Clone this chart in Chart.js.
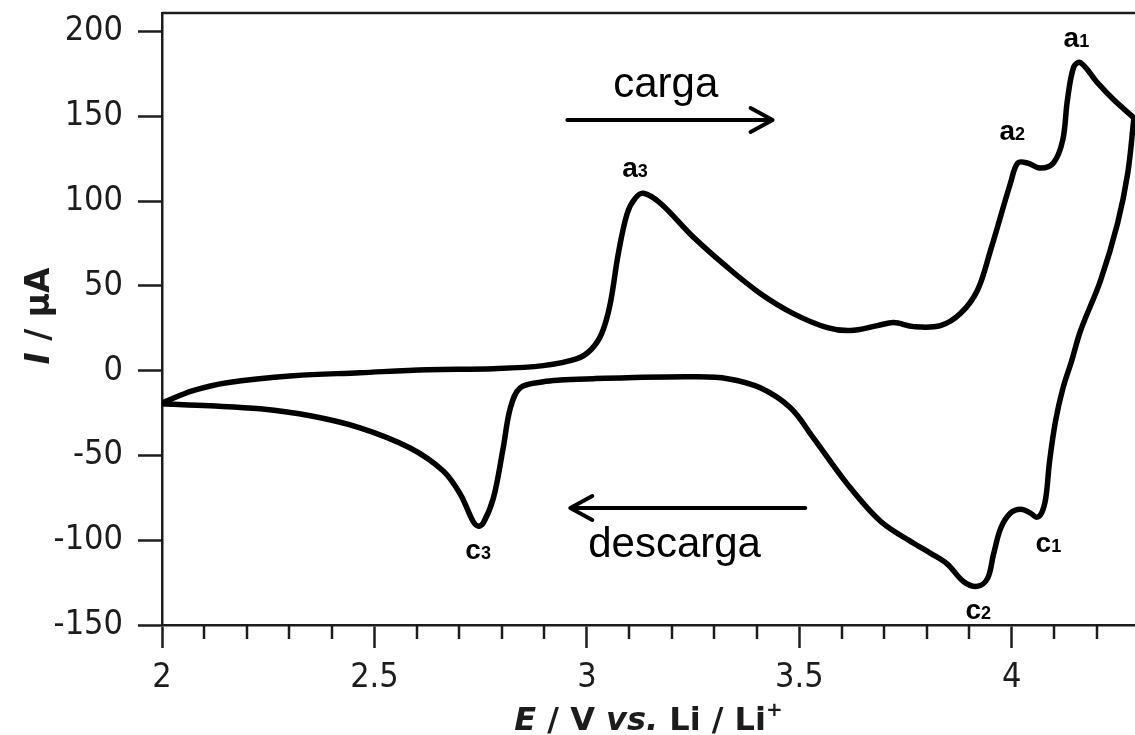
<!DOCTYPE html>
<html lang="es">
<head>
    <meta charset="UTF-8">
    <title>Voltametría cíclica</title>
    <style>
        body {
            margin: 0;
            background: #fff;
        }

        #chart-box {
            width: 1135px;
            height: 735px;
            position: relative;
        }
    </style>
</head>
<body>
    <div id="chart-box">
        <canvas id="cv-chart"></canvas>
    </div>

    <script src="https://cdn.jsdelivr.net/npm/chart.js"></script>
    <script>
        // barrido anódico (carga), E en V e I en µA
        const cargaE = [2.000, 2.073, 2.153, 2.309, 2.466, 2.624, 2.780, 2.897, 2.977, 3.010, 3.035, 3.055, 3.074, 3.095, 3.114, 3.133,
            3.173, 3.251, 3.331, 3.408, 3.486, 3.566, 3.620, 3.684, 3.722, 3.769, 3.832, 3.879, 3.919, 3.950, 3.997, 4.014,
            4.037, 4.068, 4.098, 4.120, 4.131, 4.146, 4.162, 4.202, 4.240, 4.285];
        const cargaI = [-19, -11.8, -7.1, -3.0, -1.2, 0.6, 1.2, 3.0, 7.1, 12.5, 22, 39.6, 69.2, 92.9, 101.8, 104.7,
            98.8, 78.7, 60.9, 45.6, 33.7, 25.4, 23.7, 26.6, 28.4, 26.0, 26.6, 33.7, 47.3, 71.0, 110.7, 122.5,
            122.5, 119.5, 122.5, 136.1, 159.8, 179.3, 181.7, 169.8, 159.8, 149.7];

        // barrido catódico (descarga)
        const descargaE = [4.287, 4.273, 4.249, 4.209, 4.162, 4.141, 4.120, 4.103, 4.089, 4.080, 4.070, 4.058, 4.044, 4.021, 3.997, 3.974,
            3.957, 3.943, 3.919, 3.886, 3.849, 3.809, 3.769, 3.691, 3.613, 3.533, 3.479, 3.408, 3.331, 3.251, 3.095, 3.015,
            2.937, 2.897, 2.843, 2.820, 2.803, 2.780, 2.756, 2.744, 2.732, 2.702, 2.662, 2.584, 2.466, 2.349, 2.231, 2.113, 2.000];
        const descargaI = [148, 116.6, 87.0, 53.3, 23.7, 5.9, -10.7, -29.6, -53.3, -75.1, -84.0, -86.4, -84.0, -81.7, -84.0, -92.9,
            -108.3, -122.5, -127.2, -124.3, -114.2, -107.7, -101.8, -88.8, -66.9, -39.6, -21.9, -10.1, -4.7, -3.6, -4.1, -4.7,
            -5.5, -6.5, -10.1, -21.9, -45.6, -75.1, -89.9, -91.7, -88.8, -72.8, -59.2, -45.6, -33.7, -26.6, -22.5, -20.7, -19.5];

        const xTicks = [2, 2.5, 3, 3.5, 4];
        const yTicks = [-150, -100, -50, 0, 50, 100, 150, 200];

        // etiquetas de picos: letra, subíndice, posición (E, I) de la esquina izquierda sobre la línea base
        const picos = [
            { txt: 'a', sub: '1', e: 4.122, i: 191 },
            { txt: 'a', sub: '2', e: 3.971, i: 136 },
            { txt: 'a', sub: '3', e: 3.083, i: 114 },
            { txt: 'c', sub: '1', e: 4.056, i: -107 },
            { txt: 'c', sub: '2', e: 3.891, i: -146.5 },
            { txt: 'c', sub: '3', e: 2.714, i: -111 }
        ];

        const INK = '#1c1c1c';
        const tickFont = "'DejaVu Sans Condensed', 'Liberation Sans', sans-serif";
        const titleFont = "'DejaVu Sans', sans-serif";
        const noteFont = "'Liberation Sans', Arial, sans-serif";

        function toPoints(es, is) {
            return es.map((e, k) => ({ x: e, y: is[k] }));
        }

        function arrow(ctx, x1, x2, y) {
            const dir = Math.sign(x2 - x1);
            ctx.beginPath();
            ctx.moveTo(x1, y);
            ctx.lineTo(x2, y);
            ctx.moveTo(x2 - dir * 22, y - 12);
            ctx.lineTo(x2, y);
            ctx.lineTo(x2 - dir * 22, y + 12);
            ctx.stroke();
        }

        const extras = {
            id: 'extras',
            afterDraw(chart) {
                const { ctx, chartArea, scales: { x, y } } = chart;
                ctx.save();

                // marco superior
                ctx.strokeStyle = INK;
                ctx.lineWidth = 2.5;
                ctx.beginPath();
                ctx.moveTo(chartArea.left, chartArea.top);
                ctx.lineTo(chartArea.right, chartArea.top);
                ctx.stroke();

                // ticks menores cada 0.1 V
                for (let k = 21; k <= 42; k++) {
                    if (k % 5 === 0) continue;
                    const px = Math.round(x.getPixelForValue(k / 10));
                    ctx.beginPath();
                    ctx.moveTo(px, chartArea.bottom);
                    ctx.lineTo(px, chartArea.bottom + 14);
                    ctx.stroke();
                }

                // flechas de sentido de barrido
                ctx.strokeStyle = '#000';
                ctx.lineWidth = 4;
                ctx.lineCap = 'round';
                ctx.lineJoin = 'round';
                arrow(ctx, x.getPixelForValue(2.954), x.getPixelForValue(3.437), y.getPixelForValue(147.9));
                arrow(ctx, x.getPixelForValue(3.514), x.getPixelForValue(2.961), y.getPixelForValue(-81));

                ctx.fillStyle = '#000';
                ctx.textAlign = 'left';
                ctx.textBaseline = 'alphabetic';
                ctx.font = `42px ${noteFont}`;
                ctx.fillText('carga', x.getPixelForValue(3.062), y.getPixelForValue(161.5));
                ctx.fillText('descarga', x.getPixelForValue(3.003), y.getPixelForValue(-110));

                picos.forEach(p => {
                    const px = x.getPixelForValue(p.e);
                    const py = y.getPixelForValue(p.i);
                    ctx.font = `bold 28px ${noteFont}`;
                    ctx.fillText(p.txt, px, py);
                    const w = ctx.measureText(p.txt).width;
                    ctx.font = `bold 18px ${noteFont}`;
                    ctx.fillText(p.sub, px + w, py);
                });

                // título eje x: E / V vs. Li / Li+
                ctx.fillStyle = INK;
                const parts = [
                    { t: 'E', it: true },
                    { t: ' / V ', it: false },
                    { t: 'vs.', it: true },
                    { t: ' Li / Li', it: false }
                ];
                const fx = (it) => `${it ? 'italic ' : ''}bold 32px ${titleFont}`;
                let total = 0;
                parts.forEach(p => { ctx.font = fx(p.it); total += ctx.measureText(p.t).width; });
                ctx.font = `bold 20px ${titleFont}`;
                total += ctx.measureText('+').width;
                let cx = (chartArea.left + chartArea.right) / 2 - total / 2;
                const by = 730;
                parts.forEach(p => {
                    ctx.font = fx(p.it);
                    ctx.fillText(p.t, cx, by);
                    cx += ctx.measureText(p.t).width;
                });
                ctx.font = `bold 20px ${titleFont}`;
                ctx.fillText('+', cx, by - 14);

                // título eje y: I / µA
                ctx.save();
                ctx.translate(49, (chartArea.top + chartArea.bottom) / 2 - 3);
                ctx.rotate(-Math.PI / 2);
                const yparts = [
                    { t: 'I', it: true },
                    { t: ' / µA', it: false }
                ];
                const fy = (it) => `${it ? 'italic ' : ''}bold 33px ${titleFont}`;
                let tw = 0;
                yparts.forEach(p => { ctx.font = fy(p.it); tw += ctx.measureText(p.t).width; });
                let ty = -tw / 2;
                yparts.forEach(p => {
                    ctx.font = fy(p.it);
                    ctx.fillText(p.t, ty, 0);
                    ty += ctx.measureText(p.t).width;
                });
                ctx.restore();

                ctx.restore();
            }
        };

        const lineStyle = {
            showLine: true,
            borderColor: '#000',
            borderWidth: 5.5,
            pointRadius: 0,
            fill: false,
            tension: 0.35,
            borderCapStyle: 'round',
            borderJoinStyle: 'round'
        };

        new Chart(document.getElementById('cv-chart'), {
            type: 'scatter',
            data: {
                datasets: [
                    { label: 'carga', data: toPoints(cargaE, cargaI), ...lineStyle },
                    { label: 'descarga', data: toPoints(descargaE, descargaI), ...lineStyle }
                ]
            },
            options: {
                responsive: true,
                maintainAspectRatio: false,
                animation: false,
                layout: { padding: { top: 13, right: 0, bottom: 0, left: 0 } },
                plugins: {
                    legend: { display: false },
                    tooltip: { enabled: false }
                },
                scales: {
                    x: {
                        type: 'linear',
                        min: 2,
                        max: 4.29,
                        afterFit: s => {
                            s.height = 110;
                            s.paddingLeft = 0;
                            s.paddingRight = 0;
                        },
                        afterBuildTicks: s => { s.ticks = xTicks.map(v => ({ value: v })); },
                        border: { display: true, color: INK, width: 2.5 },
                        grid: { drawOnChartArea: false, tickLength: 23, tickColor: INK, tickWidth: 2.5 },
                        ticks: {
                            autoSkip: false,
                            maxRotation: 0,
                            padding: 10,
                            color: INK,
                            font: { family: tickFont, size: 34 },
                            callback: v => String(v)
                        }
                    },
                    y: {
                        min: -150,
                        max: 211,
                        afterFit: s => {
                            s.width = 162;
                            s.paddingTop = 0;
                            s.paddingBottom = 0;
                        },
                        afterBuildTicks: s => { s.ticks = yTicks.map(v => ({ value: v })); },
                        border: { display: true, color: INK, width: 2.5 },
                        grid: { drawOnChartArea: false, tickLength: 24, tickColor: INK, tickWidth: 2.5 },
                        ticks: {
                            padding: 15,
                            color: INK,
                            font: { family: tickFont, size: 34 },
                            callback: v => String(v)
                        }
                    }
                }
            },
            plugins: [extras]
        });
    </script>
</body>
</html>
